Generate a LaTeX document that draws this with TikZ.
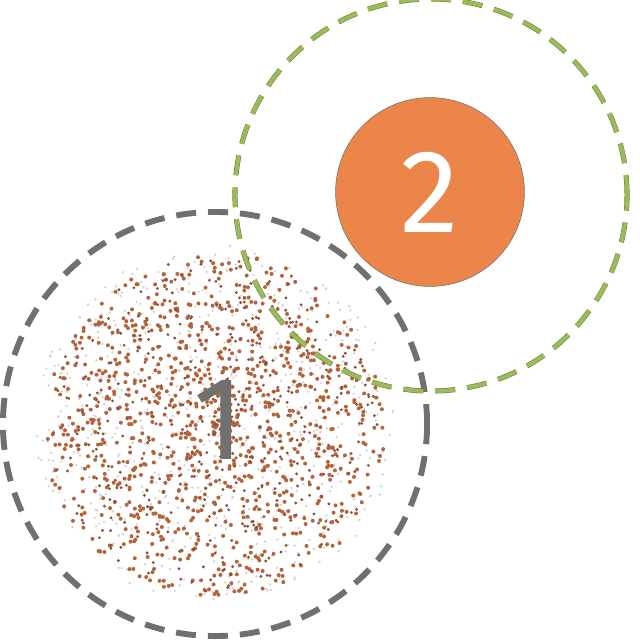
\documentclass[tikz,border=0pt]{standalone}
\usepackage{fontspec}
\setsansfont{Fira Sans}
\usepackage{tikz}
\definecolor{ringgray}{HTML}{707070}
\definecolor{ringgreen}{HTML}{9BBB59}
\definecolor{discorange}{HTML}{EB854A}
\definecolor{speckbrown}{HTML}{B4643C}
\definecolor{speckdark}{HTML}{8E5036}
\definecolor{specklight}{HTML}{D2D2D2}

\begin{document}
\begin{tikzpicture}[x=0.025cm, y=-0.025cm,
    ring/.style={circle, draw, inner sep=0pt, fill=none},
    grayring/.style={ring, draw=ringgray, line width=4.2pt, dash pattern=on 0.5cm off 0.3cm, minimum size=10.6cm},
    greenring/.style={ring, draw=ringgreen!65!black, line width=0.35pt, double=ringgreen, double distance=2.9pt, dash pattern=on 0.5cm off 0.3cm, minimum size=9.8cm},
    disc/.style={circle, draw=black!55, line width=0.4pt, fill=discorange, inner sep=0pt, minimum size=4.72cm},
    digit/.style={font=\sffamily\fontsize{84}{84}\selectfont, inner sep=0pt}]

    \useasboundingbox (0,0) rectangle (640,640);

    % speckle cloud behind ring 1
    \coordinate (cloud) at (215,425);
    \pgfmathsetseed{4217}
    \foreach \i in {1,...,700}{
        \pgfmathsetmacro{\ang}{360*rnd}
        \pgfmathsetmacro{\rad}{180*pow(rnd,0.55)}
        \fill[specklight] (cloud) ++(\ang:\rad) circle (1.3);
    }
    \foreach \i in {1,...,1000}{
        \pgfmathsetmacro{\ang}{360*rnd}
        \pgfmathsetmacro{\rad}{172*pow(rnd,0.62)}
        \fill[speckbrown] (cloud) ++(\ang:\rad) circle (2.0);
    }
    \foreach \i in {1,...,450}{
        \pgfmathsetmacro{\ang}{360*rnd}
        \pgfmathsetmacro{\rad}{168*pow(rnd,0.62)}
        \fill[speckdark] (cloud) ++(\ang:\rad) circle (1.6);
    }

    \node[grayring] (ring1) at (215,424) {};
    \node[greenring] (ring2) at (431,195) {};
    \node[disc] (disc2) at (430,192) {};

    \node[digit, text=ringgray] (one) at (219,420) {1};
    \node[digit, text=white] (two) at (disc2) {2};
\end{tikzpicture}
\end{document}
